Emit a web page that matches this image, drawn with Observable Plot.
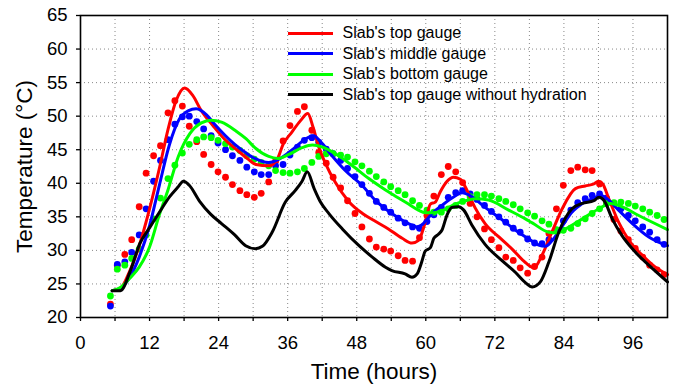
<!DOCTYPE html>
<html><head><meta charset="utf-8">
<script src="https://cdn.jsdelivr.net/npm/d3@7"></script>
<script src="https://cdn.jsdelivr.net/npm/@observablehq/plot@0.6"></script>
<style>
body{margin:0;background:#fff;font-family:"Liberation Sans",Arial,sans-serif;}
#wrap{position:relative;width:676px;height:387px;}
#legend{position:absolute;left:288px;top:23px;font-size:16px;color:#000;}
.row{display:flex;align-items:center;height:20.5px;white-space:nowrap;}
.sw{width:45px;height:3px;margin-right:9.5px;}
</style></head><body><div id="wrap"><div id="legend"></div></div>
<script>
const seriesNames = ["Slab's top gauge","Slab's middle gauge","Slab's bottom gauge","Slab's top gauge without hydration"];
const seriesColors = ["#ff0000","#0000ff","#00ff00","#000000"];

const xTicks = [0,12,24,36,48,60,72,84,96];
const xMinorTicks = [6,18,30,42,54,66,78,90];
const xGrid = [6,12,18,24,30,36,42,48,54,60,66,72,78,84,90,96];
const yTicks = [20,25,30,35,40,45,50,55,60,65];
const yGrid = [25,30,35,40,45,50,55,60];

const dotTimes = [5.2,6.4,7.7,8.9,10.2,11.4,12.7,13.9,15.2,16.4,
 17.7,18.9,20.2,21.4,22.7,23.9,25.2,26.4,27.7,28.9,
 30.2,31.4,32.7,33.9,35.2,36.4,37.7,38.9,40.2,41.4,
 42.7,43.9,45.2,46.4,47.7,48.9,50.2,51.4,52.7,53.9,
 55.2,56.4,57.7,58.9,60.2,61.4,62.7,63.9,65.2,66.4,
 67.7,68.9,70.2,71.4,72.7,73.9,75.2,76.4,77.7,78.9,
 80.2,81.4,82.7,83.9,85.2,86.4,87.7,88.9,90.2,91.4,
 92.7,93.9,95.2,96.4,97.7,98.9,100.2,101.4];

const redDots = [22.0,27.8,29.4,31.6,36.5,41.5,44.1,45.6,50.5,52.3,
 51.5,48.5,46.2,44.3,42.8,41.7,40.9,39.8,38.9,38.3,
 37.9,38.5,40.2,43.3,46.3,48.6,50.7,51.4,47.9,44.6,
 43.0,40.9,39.3,37.4,35.5,33.5,31.7,30.5,30.2,29.9,
 29.2,28.5,28.4,31.9,35.2,38.1,41.3,42.5,41.7,40.1,
 37.0,35.0,33.2,31.6,30.4,29.0,28.5,27.4,26.6,27.6,
 29.0,32.5,36.2,39.7,41.9,42.4,42.0,41.9,39.9,37.0,
 34.6,32.9,31.6,30.3,29.0,27.8,27.1,26.4];

const blueDots = [21.7,27.9,28.3,29.7,32.3,36.2,40.3,43.4,46.5,48.8,
 49.9,50.0,49.2,48.1,47.1,46.0,45.0,44.1,43.4,42.4,
 41.7,41.3,41.3,42.6,42.8,44.2,45.4,46.4,46.8,46.1,
 45.1,44.4,43.4,42.2,41.0,39.8,38.5,37.3,36.4,35.7,
 34.8,34.1,33.5,33.3,34.3,35.3,36.4,37.9,38.6,38.9,
 38.4,37.6,36.7,35.8,35.0,34.2,33.3,32.7,31.7,31.1,
 31.0,31.6,33.0,34.4,36.0,37.1,37.7,38.2,38.4,37.8,
 36.9,36.2,35.2,34.4,33.5,32.7,31.6,30.9];

const greenDots = [23.2,27.2,27.8,28.8,30.2,32.3,34.7,37.8,40.7,42.7,
 44.5,45.8,46.5,46.9,46.8,46.4,45.9,45.4,44.9,44.1,
 43.6,43.1,42.6,41.9,41.6,41.5,41.7,42.2,43.1,44.0,
 44.4,44.4,44.2,43.9,43.2,42.6,41.8,41.0,40.2,39.5,
 38.9,38.3,37.4,36.7,36.0,35.7,35.7,36.2,36.7,37.3,
 38.0,38.3,38.3,38.1,37.7,37.3,36.8,36.2,35.6,35.1,
 34.4,33.9,33.1,33.0,33.3,34.0,34.7,35.5,36.2,37.0,
 37.1,37.2,37.0,36.6,36.2,35.7,35.2,34.6];

const redLineTime = [5.5,6.9,8.5,10.2,12.0,13.7,15.2,16.6,18.1,19.5,21.0,23.0,25.0,27.0,29.0,30.5,32.7,34.2,35.2,36.7,38.2,39.5,40.4,41.4,42.6,44.3,46.6,49.0,51.3,53.5,55.9,57.6,58.75,59.9,60.8,61.65,62.5,63.7,64.8,66.0,66.9,67.7,68.6,70.3,72.7,75.0,77.3,78.8,80.2,81.9,83.7,86.0,87.7,89.2,90.0,90.75,91.8,93.5,95.3,97.6,99.9,102];
const redLineTemp = [24.0,24.3,26.8,30.7,36.2,42.2,48.0,52.3,54.2,53.1,50.8,48.6,46.6,45.1,43.7,42.8,42.6,43.6,45.8,47.6,49.3,50.4,48.4,45.4,42.9,40.1,37.3,35.5,34.3,33.2,31.8,31.1,31.5,34.2,36.9,37.2,38.7,40.3,40.9,40.6,39.4,37.9,36.3,34.0,32.0,30.2,28.2,27.4,29.3,32.7,36.2,39.2,39.6,39.9,40.3,39.9,37.7,34.2,31.5,29.3,27.5,26.4];

const blueLineTime = [5.5,7.0,8.5,10.2,12.0,13.7,15.4,17.2,18.7,20.1,21.9,23.3,26.8,28.8,30.3,32.7,34.5,36.8,39.1,40.5,41.7,43.7,46.0,48.9,51.2,54.1,57.0,58.5,59.3,61.1,62.8,65.1,66.3,68.0,70.3,73.2,75.6,77.9,79.6,80.8,81.9,83.7,85.4,87.2,89.5,90.3,91.5,93.5,95.9,98.75,102];
const blueLineTemp = [24.0,24.4,25.9,29.0,33.7,39.7,45.6,49.6,50.8,51.1,50.2,48.8,45.8,44.5,43.7,43.1,43.6,45.0,46.6,47.1,46.2,44.1,41.9,39.7,37.5,35.5,34.0,33.5,33.8,35.5,36.7,38.1,38.6,38.0,36.4,34.6,33.0,31.7,30.8,30.6,31.4,33.6,35.7,37.0,37.9,38.2,37.7,36.0,34.0,32.0,30.7];

const greenLineTime = [5.5,7.0,8.5,10.2,12.0,13.7,15.2,17.0,19.0,21.0,22.7,24.5,27.0,28.8,30.3,32.7,34.3,36.2,38.5,40.3,42.0,44.3,47.2,50.1,53.0,54.1,57.0,58.7,59.9,61.3,62.8,65.1,67.4,68.6,70.9,74.4,77.3,78.5,81.4,82.8,84.3,87.2,90.1,92.1,94.1,97.0,102];
const greenLineTemp = [24.0,24.5,25.8,27.5,30.5,35.3,39.0,44.0,47.4,49.0,49.4,49.1,47.8,46.6,45.3,44.0,43.7,44.3,45.3,45.7,45.4,44.4,42.65,40.7,39.0,38.4,36.9,36.0,35.6,35.6,35.9,36.9,37.5,37.7,37.5,36.0,34.7,34.1,32.7,32.6,33.2,34.7,36.2,37.0,36.5,35.2,33.1];

const blackLineTime = [5.5,6.95,8.6,10.3,12.1,13.8,15.5,16.9,17.9,18.9,20.7,22.6,24.5,26.8,28.7,30.4,31.6,33.3,35.6,37.3,38.5,39.4,40.6,41.7,43.2,45.5,48.4,50.7,53.0,54.1,56.4,57.6,58.5,59.3,59.9,60.8,61.4,62.2,62.8,63.7,64.5,65.7,66.6,68.0,70.3,73.2,75.6,77.3,78.5,79.9,81.4,83.1,85.4,87.2,89.2,90.1,91.0,92.4,94.1,96.4,98.75,102];
const blackLineTemp = [24.0,24.0,26.8,31.0,33.5,35.8,38.0,39.4,40.3,39.7,37.3,35.4,34.0,32.3,30.7,30.25,30.6,32.7,37.2,38.9,40.3,41.7,39.2,37.2,35.45,33.2,30.7,29.0,27.5,27.0,26.5,26.0,26.5,28.3,29.9,30.4,31.8,32.4,33.0,35.3,36.4,36.5,36.0,33.8,30.9,28.5,26.7,25.2,24.55,25.3,28.3,32.7,36.2,37.0,37.4,37.9,37.4,34.7,32.2,29.75,27.8,25.3];

const dotSeries = [redDots, blueDots, greenDots];
const lineSeries = [[redLineTime, redLineTemp],[blueLineTime, blueLineTemp],[greenLineTime, greenLineTemp],[blackLineTime, blackLineTemp]];

const dotMarks = dotSeries.map((vals, i) =>
  Plot.dot(vals, {x: dotTimes, y: vals, r: 3.4, fill: seriesColors[i], stroke: "none"}));
const lineMarks = lineSeries.map(([t, v], i) =>
  Plot.line(v, {x: t, y: v, stroke: seriesColors[i], strokeWidth: 3, curve: "monotone-x"}));

const chart = Plot.plot({
  width: 676, height: 387,
  marginLeft: 80, marginRight: 9, marginTop: 15, marginBottom: 70,
  x: {domain: [0, 102]},
  y: {domain: [20, 65]},
  style: {fontFamily: "'Liberation Sans', Arial, sans-serif", background: "white", color: "black", overflow: "visible"},
  marks: [
    Plot.gridX(xGrid, {stroke: "#888", strokeOpacity: 1, strokeWidth: 1, strokeDasharray: "1,3"}),
    Plot.gridY(yGrid, {stroke: "#888", strokeOpacity: 1, strokeWidth: 1, strokeDasharray: "1,3"}),
    ...dotMarks,
    ...lineMarks,
    Plot.frame({stroke: "black", strokeWidth: 1.6}),
    Plot.axisX(xTicks, {tickSize: 4, tickPadding: 14, fontSize: 18.5, label: null, strokeWidth: 1.3}),
    Plot.axisX(xMinorTicks, {tickSize: 4, text: null, label: null, strokeWidth: 1.3}),
    Plot.axisY(yTicks, {tickSize: 4, tickPadding: 9, fontSize: 18.5, label: null, strokeWidth: 1.3}),
    Plot.text(["Time (hours)"], {frameAnchor: "bottom", dy: 54, fontSize: 22.5, lineAnchor: "middle", textAnchor: "middle", fill: "black"}),
    Plot.text(["Temperature (°C)"], {frameAnchor: "left", dx: -56, rotate: -90, fontSize: 22.5, lineAnchor: "middle", textAnchor: "middle", fill: "black"})
  ]
});
const wrap = document.getElementById("wrap");
wrap.insertBefore(chart, wrap.firstChild);

const legend = document.getElementById("legend");
seriesNames.forEach((name, i) => {
  const row = document.createElement("div");
  row.className = "row";
  const sw = document.createElement("div");
  sw.className = "sw";
  sw.style.background = seriesColors[i];
  const tx = document.createElement("span");
  tx.textContent = name;
  row.appendChild(sw); row.appendChild(tx);
  legend.appendChild(row);
});
</script></body></html>
